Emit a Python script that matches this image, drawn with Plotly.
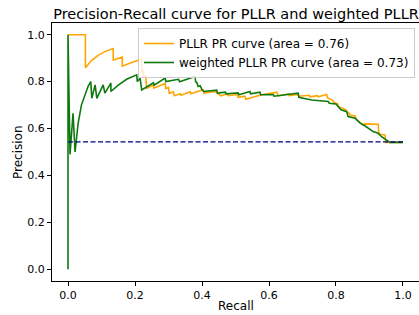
import plotly.graph_objects as go

# PLLR PR curve (orange)
pllr_recall = [0.0, 0.052, 0.052, 0.07, 0.09, 0.11, 0.135, 0.135, 0.162, 0.162, 0.19, 0.22,
               0.22, 0.225, 0.225, 0.232, 0.235, 0.255, 0.256, 0.29, 0.292, 0.30, 0.302, 0.315,
               0.317, 0.335, 0.337, 0.365, 0.367, 0.404, 0.406, 0.424, 0.44, 0.456, 0.476, 0.478,
               0.505, 0.508, 0.528, 0.531, 0.578, 0.623, 0.628, 0.658, 0.66, 0.687, 0.69, 0.72,
               0.722, 0.745, 0.747, 0.772, 0.775, 0.79, 0.795, 0.805, 0.807, 0.83, 0.832, 0.84,
               0.842, 0.857, 0.86, 0.881, 0.885, 0.926, 0.928, 0.946, 0.949, 1.0]
pllr_precision = [1.0, 1.0, 0.859, 0.89, 0.912, 0.928, 0.941, 0.892, 0.905, 0.866, 0.882, 0.896,
                  0.843, 0.846, 0.822, 0.826, 0.772, 0.786, 0.772, 0.792, 0.770, 0.775, 0.751, 0.756,
                  0.740, 0.748, 0.742, 0.757, 0.748, 0.765, 0.751, 0.753, 0.758, 0.739, 0.748, 0.74,
                  0.745, 0.733, 0.738, 0.725, 0.744, 0.755, 0.739, 0.748, 0.74, 0.745, 0.738, 0.742,
                  0.735, 0.74, 0.735, 0.745, 0.73, 0.72, 0.71, 0.705, 0.694, 0.68, 0.672, 0.665,
                  0.658, 0.654, 0.64, 0.615, 0.62, 0.618, 0.577, 0.573, 0.541, 0.541]

# weighted PLLR PR curve (green)
wpllr_recall = [0.0, 0.0, 0.006, 0.015, 0.021, 0.03, 0.04, 0.05, 0.06, 0.068, 0.071, 0.081,
                0.086, 0.105, 0.11, 0.128, 0.128, 0.15, 0.175, 0.205, 0.207, 0.215, 0.22, 0.255,
                0.257, 0.29, 0.292, 0.33, 0.333, 0.379, 0.381, 0.385, 0.388, 0.395, 0.40, 0.405,
                0.444, 0.446, 0.47, 0.472, 0.508, 0.51, 0.543, 0.545, 0.573, 0.575, 0.613, 0.615,
                0.633, 0.687, 0.689, 0.727, 0.777, 0.78, 0.80, 0.807, 0.815, 0.832, 0.836, 0.857,
                0.862, 0.872, 0.887, 0.896, 0.911, 0.926, 0.936, 0.951, 0.961, 1.0]
wpllr_precision = [0.0, 1.0, 0.49, 0.665, 0.50, 0.62, 0.70, 0.745, 0.78, 0.80, 0.729, 0.786,
                   0.729, 0.786, 0.751, 0.794, 0.758, 0.785, 0.81, 0.829, 0.80, 0.815, 0.765, 0.795,
                   0.785, 0.815, 0.80, 0.81, 0.80, 0.822, 0.80, 0.795, 0.78, 0.782, 0.765, 0.758,
                   0.764, 0.751, 0.755, 0.748, 0.752, 0.744, 0.758, 0.748, 0.755, 0.744, 0.745, 0.738,
                   0.742, 0.751, 0.733, 0.722, 0.715, 0.708, 0.705, 0.694, 0.68, 0.672, 0.651, 0.644,
                   0.637, 0.623, 0.611, 0.601, 0.587, 0.58, 0.565, 0.551, 0.541, 0.541]

baseline_x = [0.0, 1.0]
baseline_y = [0.543, 0.543]

pllr_label = "PLLR PR curve (area = 0.76)"
wpllr_label = "weighted PLLR PR curve (area = 0.73)"
title_text = "Precision-Recall curve for PLLR and weighted PLLR"
x_title = "Recall"
y_title = "Precision"
ticks = [0.0, 0.2, 0.4, 0.6, 0.8, 1.0]
tick_labels = ["0.0", "0.2", "0.4", "0.6", "0.8", "1.0"]

FONT = "DejaVu Sans"
W, H = 419, 315
ML, MR, MT, MB = 52, 0, 23, 34
PW = W - ML - MR
PH = H - MT - MB

fig = go.Figure()
fig.add_trace(go.Scatter(x=pllr_recall, y=pllr_precision, mode="lines",
                         line=dict(color="#FFA500", width=1.6), name=pllr_label))
fig.add_trace(go.Scatter(x=wpllr_recall, y=wpllr_precision, mode="lines",
                         line=dict(color="#0E7A0E", width=1.6), name=wpllr_label))
fig.add_trace(go.Scatter(x=baseline_x, y=baseline_y, mode="lines",
                         line=dict(color="#000080", width=1.2, dash="5px,2.5px"), showlegend=False))

fig.update_layout(
    width=W, height=H,
    margin=dict(l=ML, r=MR, t=MT, b=MB, autoexpand=False),
    paper_bgcolor="white", plot_bgcolor="white",
    font=dict(family=FONT, color="black", size=11),
    title=dict(text=title_text, x=(236 - ML) / PW, xref="paper", xanchor="center",
               y=1 - 13.5 / H, yref="container", yanchor="middle",
               font=dict(family=FONT, size=14.5, color="black")),
    showlegend=True,
    legend=dict(x=(415 - ML) / PW, y=(H - MB - 28) / PH, xanchor="right", yanchor="top",
                bgcolor="rgba(255,255,255,0.8)", bordercolor="#cccccc", borderwidth=1,
                font=dict(family=FONT, size=12, color="black"),
                itemwidth=30, tracegroupgap=0),
    annotations=[
        dict(text=x_title, xref="paper", yref="paper", x=(236 - ML) / PW,
             y=-(306 - (H - MB)) / PH, xanchor="center", yanchor="middle",
             showarrow=False, font=dict(family=FONT, size=12, color="black")),
        dict(text=y_title, xref="paper", yref="paper", x=-(ML - 18) / PW,
             y=0.5, xanchor="center", yanchor="middle", textangle=-90,
             showarrow=False, font=dict(family=FONT, size=12, color="black")),
    ],
)
fig.update_xaxes(range=[-0.0478, 1.0478], tickvals=ticks, ticktext=tick_labels, automargin=False,
                 showgrid=False, zeroline=False, showline=True, linecolor="black", linewidth=1,
                 mirror=True, ticks="outside", ticklen=4, tickcolor="black",
                 tickfont=dict(family=FONT, size=11))
fig.update_yaxes(range=[-0.05, 1.05], tickvals=ticks, ticktext=tick_labels, automargin=False,
                 showgrid=False, zeroline=False, showline=True, linecolor="black", linewidth=1,
                 mirror=False, ticks="outside", ticklen=4, tickcolor="black",
                 tickfont=dict(family=FONT, size=11))

fig.write_html("out.html", config={"displayModeBar": False},
               post_script="document.body.style.margin='0';document.body.style.overflow='hidden';")
